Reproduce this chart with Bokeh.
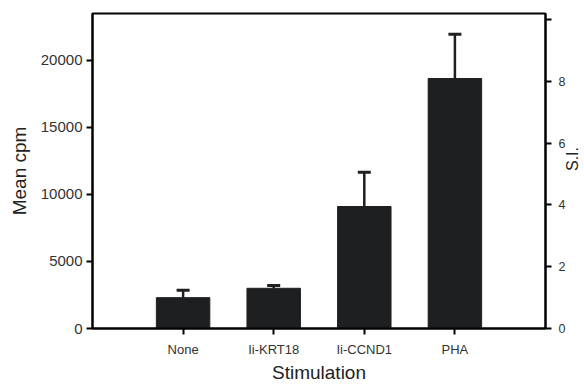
import math
from bokeh.plotting import figure
from bokeh.models import (FactorRange, Range1d, LinearAxis, FixedTicker,
                          ColumnDataSource, Whisker, TeeHead)
from bokeh.embed import file_html
from bokeh.resources import INLINE

categories = ["None", "Ii-KRT18", "Ii-CCND1", "PHA"]
mean_cpm = [2300, 3000, 9100, 18650]
err_upper = [2850, 3200, 11650, 21950]
left_ticks = [0, 5000, 10000, 15000, 20000]
si_ticks = [0, 2, 4, 6, 8, 10]

FONT = "Liberation Sans"
BAR = "#1e1f20"

p = figure(width=584, height=386, output_backend="svg", toolbar_location=None,
           x_range=FactorRange(factors=categories, range_padding=0.5,
                               range_padding_units="absolute"),
           y_range=Range1d(0, 23500),
           min_border_left=92, min_border_right=39, min_border_top=13,
           min_border_bottom=58)
p.frame_width = 453
p.frame_height = 315
p.extra_y_ranges = {"si": Range1d(0, 10.2)}

src = ColumnDataSource(dict(x=categories, top=mean_cpm, upper=err_upper))
p.vbar(x="x", top="top", width=0.59, source=src, fill_color=BAR, line_color=BAR)
w = Whisker(base="x", lower="top", upper="upper", source=src,
            line_color=BAR, line_width=2.5,
            upper_head=TeeHead(size=13, line_color=BAR, line_width=3),
            lower_head=None)
p.add_layout(w)

p.grid.visible = False
p.outline_line_color = "black"
p.outline_line_width = 2
p.background_fill_color = "white"
p.border_fill_color = "white"

def style(ax, tick_size):
    ax.axis_line_width = 2
    ax.axis_line_color = "black"
    ax.major_tick_line_width = 2
    ax.major_tick_out = 6
    ax.major_tick_in = 0
    ax.minor_tick_line_color = None
    ax.major_label_text_font = FONT
    ax.major_label_text_font_size = tick_size
    ax.major_label_text_color = "#333333"
    ax.axis_label_text_font = FONT
    ax.axis_label_text_font_size = "19px"
    ax.axis_label_text_font_style = "normal"
    ax.axis_label_text_color = "#222222"

style(p.xaxis[0], "13px")
style(p.yaxis[0], "15px")

p.xaxis.axis_label = "Stimulation"
p.xaxis.major_label_standoff = 7
p.xaxis.axis_label_standoff = 2
p.yaxis.axis_label = "Mean cpm"
p.yaxis.ticker = FixedTicker(ticks=left_ticks)
p.yaxis.major_label_standoff = 4
p.yaxis.axis_label_standoff = 8

si_axis = LinearAxis(y_range_name="si", ticker=FixedTicker(ticks=si_ticks),
                     axis_label="S.I.")
style(si_axis, "12.5px")
si_axis.axis_label_text_font_size = "16px"
si_axis.major_label_overrides = {10: ""}
si_axis.major_label_standoff = 7
si_axis.axis_label_standoff = 4
si_axis.axis_label_orientation = math.pi / 2
p.add_layout(si_axis, "right")

open("out.html", "w").write(file_html(p, INLINE))
